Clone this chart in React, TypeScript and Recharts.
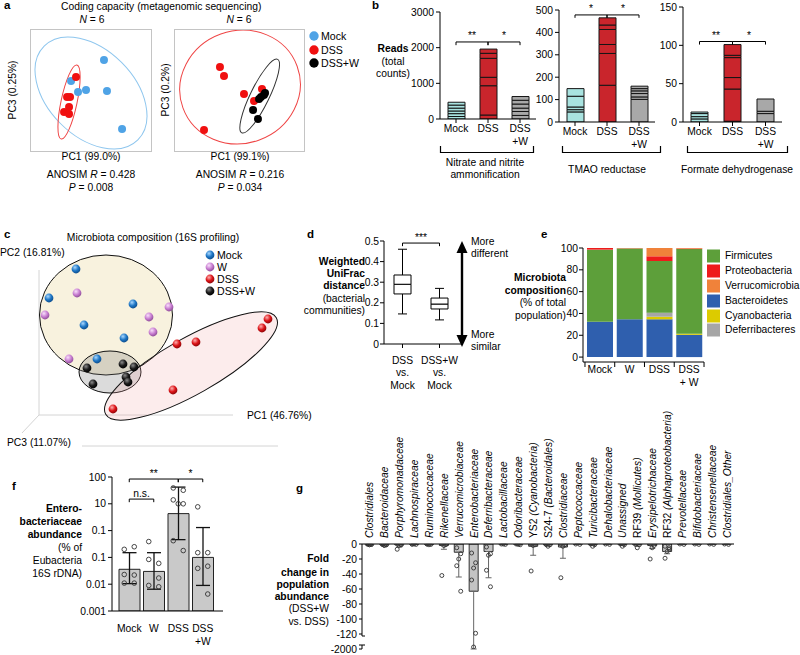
import React from 'react';
import {
  ScatterChart, Scatter, XAxis, YAxis, CartesianGrid, BarChart, Bar, Cell,
  ComposedChart, ErrorBar, ReferenceLine,
} from 'recharts';

const FONT = '"Liberation Sans", Arial, Helvetica, sans-serif';
const FS = 10.3;
const AX = { stroke: '#000', strokeWidth: 1 };
const TICK = { fontSize: FS, fill: '#000' };

/* ---------------- a : metagenomic PCoA ---------------- */
const aLeftMock = [[66.7, 82.3], [37.0, 63.5], [43.3, 53.7], [50.5, 55.4], [69.4, 54.6], [83.0, 20.6]];
const aLeftDSS = [[41.5, 67.1], [33.4, 49.2], [36.1, 49.2], [35.2, 40.2], [30.7, 35.8], [35.2, 34.0]];
const aLeftEllipses = [
  { group: 'Mock', x: 55.0, y: 52.8, rx: 59.5, ry: 38.8, angle: 45 },
  { group: 'DSS', x: 35.2, y: 44.7, rx: 7.2, ry: 34, angle: 12 },
];
const aRightDSS = [[42.1, 76.0], [45.8, 68.0], [64.1, 51.9], [73.3, 45.6], [27.5, 19.7], [80.6, 56.3]];
const aRightDSSW = [[83.4, 52.8], [79.7, 49.2], [77.9, 47.4], [72.4, 37.6], [76.9, 29.5], [82.4, 51.0]];
const aRightEllipses = [
  { group: 'DSS', x: 60.5, y: 58.1, rx: 55, ry: 51, angle: -20 },
  { group: 'DSS+W', x: 78.5, y: 50, rx: 8.5, ry: 37, angle: 26 },
];
const aColors: any = { Mock: '#4fa3e6', DSS: '#f01010', 'DSS+W': '#000' };
const aEllColors: any = { Mock: '#8ec6ee', DSS: '#ef4545', 'DSS+W': '#333' };

/* ---------------- b : functional reads ---------------- */
const bCats = ['Mock', 'DSS', 'DSS\n+W'];
const bColors = ['#a9e3e0', '#c9252c', '#a8a8a8'];
const nitrateMock = [70, 80, 75, 80, 85, 80];
const nitrateDSS = [112, 821, 236, 532, 141, 118];
const nitrateDSSW = [100, 110, 95, 115, 105, 105];
const tmaoMock = [45, 10, 12, 48, 34];
const tmaoDSS = [164, 142, 40, 67, 20, 32];
const tmaoDSSW = [101, 11, 15, 12, 10, 11];
const formateMock = [4, 3, 4, 2];
const formateDSS = [1, 42, 15, 26, 3, 14];
const formateDSSW = [11, 3, 16];
const nitrateTicks = [0, 1000, 2000, 3000];
const tmaoTicks = [0, 100, 200, 300, 400, 500];
const formateTicks = [0, 50, 100, 150];
const nitrateSig = [
  { from: 'Mock', to: 'DSS', y: 2160, yEnd: 2070, label: '**' },
  { from: 'DSS', to: 'DSS\n+W', y: 2160, yEnd: 2070, label: '*' },
];
const tmaoSig = [
  { from: 'Mock', to: 'DSS', y: 478, yEnd: 465, label: '*' },
  { from: 'DSS', to: 'DSS\n+W', y: 478, yEnd: 465, label: '*' },
];
const formateSig = [
  { from: 'Mock', to: 'DSS', y: 105, yEnd: 101, label: '**' },
  { from: 'DSS', to: 'DSS\n+W', y: 105, yEnd: 101, label: '*' },
];
const SEG_KEYS = ['s0', 's1', 's2', 's3', 's4', 's5'];

/* ---------------- c : 16S PCoA ---------------- */
const cMock = [[37, 146], [10, 117], [94, 111], [45, 90], [85, 77], [58, 56]];
const cW = [[38, 122], [6, 100], [130, 108], [110, 98], [114, 83], [30, 56]];
const cDSS = [[229, 96], [223, 87], [138, 71], [157, 73], [134, 25], [74, 6]];
const cDSSW = [[48, 47], [84, 51], [95, 48], [54, 31], [87, 38], [89, 33]];
const cEllipses = [
  { group: 'healthy', x: 67, y: 100, rx: 66.5, ry: 60, angle: 0 },
  { group: 'DSS+W', x: 71, y: 43, rx: 31, ry: 21, angle: 0 },
  { group: 'DSS', x: 152, y: 49, rx: 98, ry: 28, angle: -29.5 },
];
const cAxisSegments = [
  [[0, 0], [0, 145]],
  [[0, 0], [194, 0]],
  [[0, 0], [-17, -18]],
  [[43, -31], [239, -31]],
];

/* ---------------- d : UniFrac box plot ---------------- */
const dCats = ['DSS\nvs.\nMock', 'DSS+W\nvs.\nMock'];
const dMin = [0.146, 0.117];
const dQ1 = [0.243, 0.17];
const dMedian = [0.29, 0.194];
const dQ3 = [0.335, 0.223];
const dMax = [0.46, 0.27];
const dTicks = [0, 0.1, 0.2, 0.3, 0.4, 0.5];
const dSig = [{ from: 'DSS\nvs.\nMock', to: 'DSS+W\nvs.\nMock', y: 0.49, yEnd: 0.475, label: '***' }];

/* ---------------- e : phylum composition ---------------- */
const eCats = ['Mock', 'W', 'DSS', 'DSS\n+ W'];
const bacteroidetes = [32.5, 34.6, 34.6, 20.4];
const cyanobacteria = [0, 0, 2.4, 1.0];
const deferribacteres = [0, 0, 3.7, 0];
const firmicutes = [66.0, 65.0, 47.4, 77.6];
const proteobacteria = [1.5, 0.2, 4.3, 0.5];
const verrucomicrobia = [0, 0.2, 7.6, 0.5];
const eTicks = [0, 20, 40, 60, 80, 100];
const ePhyla = [
  { key: 'Bacteroidetes', values: bacteroidetes, color: '#2f5fae' },
  { key: 'Cyanobacteria', values: cyanobacteria, color: '#dccb00' },
  { key: 'Deferribacteres', values: deferribacteres, color: '#a6a6a6' },
  { key: 'Firmicutes', values: firmicutes, color: '#5d9f3a' },
  { key: 'Proteobacteria', values: proteobacteria, color: '#ee1b1b' },
  { key: 'Verrucomicrobia', values: verrucomicrobia, color: '#f0823a' },
];
const eLegendOrder = ['Firmicutes', 'Proteobacteria', 'Verrucomicrobia', 'Bacteroidetes', 'Cyanobacteria', 'Deferribacteres'];

/* ---------------- f : Enterobacteriaceae ---------------- */
const fCats = ['Mock', 'W', 'DSS', 'DSS\n+W'];
const fMeans = [0.036, 0.03, 4.3, 0.1];
const fLow = [0.0105, 0.0065, 0.46, 0.009];
const fHigh = [0.15, 0.15, 42, 1.3];
const fPoints = [
  [0.2, 0.25, 0.023, 0.022, 0.011, 0.011],
  [0.39, 0.06, 0.084, 0.017, 0.009, 0.008],
  [39, 32, 14, 10, 0.42, 0.18, 10],
  [7.7, 0.15, 0.15, 0.047, 0.039, 0.0043],
];
const fTicks = [0.001, 0.01, 0.1, 1, 10, 100];
const fTickLabels = ['0.001', '0.01', '0.1', '0.1', '10', '100'];
const fSig = [
  { from: 'Mock', to: 'DSS', y: 84, yEnd: 64, label: '**' },
  { from: 'DSS', to: 'DSS\n+W', y: 84, yEnd: 64, label: '*' },
  { from: 'Mock', to: 'W', y: 15, yEnd: 11.5, label: 'n.s.' },
];

/* ---------------- g : fold change per family ---------------- */
const gCats = ['Clostridiales', 'Bacteroidaceae', 'Porphyromonadaceae', 'Lachnospiraceae', 'Ruminococcaceae',
  'Rikenellaceae', 'Verrucomicrobiaceae', 'Enterobacteriaceae', 'Deferribacteraceae', 'Lactobacillaceae',
  'Odoribacteraceae', 'YS2 (Cyanobacteria)', 'S24-7 (Bacteroidales)', 'Clostridiaceae', 'Peptococcaceae',
  'Turicibacteraceae', 'Dehalobacteriaceae', 'Unassigned', 'RF39 (Mollicutes)', 'Erysipelotrichaceae',
  'RF32 (Alphaproteobacteria)', 'Prevotellaceae', 'Bifidobacteriaceae', 'Christensenellaceae', 'Clostridiales_Other'];
const gMeans = [-0.5, -1, -1, -0.3, -0.5, -2, -11, -63, -10, -0.3, -0.5, -3, -1, -4, -0.3, -0.5, -0.3, -0.5, -1, -2, -10, -0.3, -0.3, -0.3, -0.3];
const gSD = [1, 1.5, 3, 0.5, 1, 5, 33, 1937, 35, 0.5, 1, 12, 2, 15, 0.5, 1.5, 0.5, 1.5, 2, 4, 3, 0.5, 0.5, 0.5, 0.5];
const gPoints = [
  [0, -0.5, -1, 0, -0.5, -1], [0, -1, -2, -0.5, -1, -1.5], [0, -1, -2, -7, -0.5], [0, -0.5, 0, -0.3],
  [0, -0.5, -1, 0], [0, -1, -2, -42], [-5, -13, -20, -29, -63], [-12, -25, -32, -48, -119, -1750],
  [-4, -13, -15, -35, -57], [0, -0.5, 0], [0, -1, -0.5], [0, -1, -2, -36], [0, -1, -3, -0.5],
  [0, -1, -3, -45], [0, -0.5], [0, -1, -3], [0, -0.5], [0, -1, -3], [0, -1, -5], [0, -2, -5, -20],
  [-3, -5, -10, -19, -7], [0, -0.5], [0, -0.5], [0, -0.5], [0, -0.5],
];
const gTicks = [0, -20, -40, -60, -80, -100, -120, -140];
// broken axis: values below -120 are compressed, -2000 sits at the -140 slot
const brk = (v: number) => (v >= -120 ? v : -120 - ((-120 - v) / 1880) * 20);

/* ---------------- helpers ---------------- */
const toPts = (arr: number[][]) => arr.map(([x, y]) => ({ x, y }));
const At = ({ left, top, children }: any) => <div style={{ position: 'absolute', left, top }}>{children}</div>;

function T({ x, y, children, anchor = 'start', bold = false, italic = false, size = FS, rotate = 0 }: any) {
  const tx = anchor === 'middle' ? '-50%' : anchor === 'end' ? '-100%' : '0';
  return (
    <div style={{
      position: 'absolute', left: x, top: y, whiteSpace: 'nowrap', lineHeight: 1, fontSize: size,
      fontWeight: bold ? 700 : 400, fontStyle: italic ? 'italic' : 'normal',
      transform: `translate(${tx},-50%)${rotate ? ` rotate(${rotate}deg)` : ''}`, transformOrigin: '50% 50%',
    }}>{children}</div>
  );
}

const multiTick = (dy0: number, lh: number) => (p: any) => {
  const { x, y, payload } = p;
  const lines = String(payload.value).split('\n');
  return (
    <text x={x} y={y} textAnchor="middle" fontSize={FS} fill="#000">
      {lines.map((l, i) => <tspan key={i} x={x} dy={i === 0 ? dy0 : lh}>{l}</tspan>)}
    </text>
  );
};

const starLabel = (text: string) => (props: any) => {
  const vb = props.viewBox || {};
  const x = (vb.x || 0) + (vb.width || 0) / 2;
  const y = Math.min(vb.y || 0, (vb.y || 0) + (vb.height || 0)) - 2.5;
  return <text x={x} y={y} textAnchor="middle" fontSize={FS} style={{ fill: '#000', stroke: 'none' }}>{text}</text>;
};

const bracket = (s: any, key: string) => [
  <ReferenceLine key={key + 'h'} segment={[{ x: s.from, y: s.y }, { x: s.to, y: s.y }]} stroke="#000" strokeWidth={1}
    label={starLabel(s.label)} />,
  <ReferenceLine key={key + 'l'} segment={[{ x: s.from, y: s.y }, { x: s.from, y: s.yEnd }]} stroke="#000" strokeWidth={1} />,
  <ReferenceLine key={key + 'r'} segment={[{ x: s.to, y: s.y }, { x: s.to, y: s.yEnd }]} stroke="#000" strokeWidth={1} />,
];

const ellipseShape = (k: number, stroke: any, fill: any) => (p: any) => {
  const d = p.payload;
  if (!d || !isFinite(p.cx) || !isFinite(p.cy)) return null;
  return (
    <ellipse cx={p.cx} cy={p.cy} rx={d.rx * k} ry={d.ry * k}
      transform={`rotate(${d.angle} ${p.cx} ${p.cy})`}
      fill={fill[d.group] || 'none'} stroke={stroke[d.group]} strokeWidth={1} />
  );
};

/* ---------------- panel a ---------------- */
function PcoaBox({ left, top, width, height, xMax, yMax, groups, ellipses }: any) {
  const k = (width / xMax + height / yMax) / 2;
  const tx: number[] = []; for (let v = 0; v <= xMax; v += 10) tx.push(v);
  const ty: number[] = []; for (let v = 0; v <= yMax; v += 10) ty.push(v);
  return (
    <div style={{ position: 'absolute', left, top, width, height }}>
      <ScatterChart width={width} height={height} margin={{ top: 0, right: 0, bottom: 0, left: 0 }}>
        <CartesianGrid stroke="#dedede" strokeWidth={1} />
        <XAxis type="number" dataKey="x" domain={[0, xMax]} ticks={tx} interval={0} height={0} tick={false} axisLine={false} tickLine={false} allowDataOverflow />
        <YAxis type="number" dataKey="y" domain={[0, yMax]} ticks={ty} interval={0} width={0} tick={false} axisLine={false} tickLine={false} allowDataOverflow />
        <Scatter data={ellipses} isAnimationActive={false} shape={ellipseShape(k, aEllColors, {})} />
        {groups.map((g: any) => (
          <Scatter key={g.name} data={toPts(g.points)} isAnimationActive={false}
            shape={(p: any) => <circle cx={p.cx} cy={p.cy} r={4} fill={aColors[g.name]} />} />
        ))}
      </ScatterChart>
      <div style={{ position: 'absolute', left: 0, top: 0, width, height, border: '1px solid #c4c4c4', boxSizing: 'border-box', pointerEvents: 'none' }} />
    </div>
  );
}

/* ---------------- panel b ---------------- */
function ReadsChart({ left, top, width, height, marginTop, segs, ticks, yMax, sig }: any) {
  const rows = bCats.map((name, i) => {
    const r: any = { name };
    segs[i].forEach((v: number, j: number) => { r['s' + j] = v; });
    return r;
  });
  return (
    <At left={left} top={top}>
      <BarChart width={width} height={height} data={rows} margin={{ top: marginTop, right: 2, bottom: 0, left: 0 }} barSize={17}>
        <XAxis dataKey="name" height={30} interval={0} tickSize={4} tickMargin={0} tick={multiTick(8.6, 13)} axisLine={AX} tickLine={AX} />
        <YAxis width={40} domain={[0, yMax]} ticks={ticks} interval={0} tickSize={4} tickMargin={2} tick={TICK} axisLine={AX} tickLine={AX} allowDataOverflow />
        {SEG_KEYS.map((k) => (
          <Bar key={k} dataKey={k} stackId="r" stroke="#151515" strokeWidth={1} isAnimationActive={false}>
            {rows.map((r, i) => <Cell key={i} fill={bColors[i]} />)}
          </Bar>
        ))}
        {sig.flatMap((s: any, i: number) => bracket(s, 'sig' + i))}
      </BarChart>
    </At>
  );
}

/* ---------------- panel c ---------------- */
const sphereIds: any = { Mock: 'sph-mock', W: 'sph-w', DSS: 'sph-dss', 'DSS+W': 'sph-dssw' };
const cEllStroke: any = { healthy: '#111', 'DSS+W': '#111', DSS: '#111' };
const cEllFill: any = { healthy: '#f8f2de', 'DSS+W': 'rgba(110,110,110,0.25)', DSS: 'rgba(240,160,160,0.2)' };

function CChart() {
  const groups = [
    { name: 'Mock', pts: cMock }, { name: 'W', pts: cW }, { name: 'DSS', pts: cDSS }, { name: 'DSS+W', pts: cDSSW },
  ];
  return (
    <At left={0} top={245}>
      <ScatterChart width={320} height={202} margin={{ top: 0, right: 0, bottom: 0, left: 0 }}>
        <XAxis type="number" dataKey="x" domain={[-39, 281]} hide allowDataOverflow />
        <YAxis type="number" dataKey="y" domain={[-32, 170]} hide allowDataOverflow />
        {cAxisSegments.map((s, i) => (
          <ReferenceLine key={i} segment={[{ x: s[0][0], y: s[0][1] }, { x: s[1][0], y: s[1][1] }]} stroke="#d4d4d4" strokeWidth={1} ifOverflow="visible" />
        ))}
        <Scatter data={cEllipses} isAnimationActive={false} shape={ellipseShape(1, cEllStroke, cEllFill)} />
        {groups.map((g) => (
          <Scatter key={g.name} data={toPts(g.pts)} isAnimationActive={false}
            shape={(p: any) => <circle cx={p.cx} cy={p.cy} r={4.4} fill={`url(#${sphereIds[g.name]})`} />} />
        ))}
      </ScatterChart>
    </At>
  );
}

/* ---------------- panel d ---------------- */
const whisker = (capAtBottom: boolean) => (p: any) => {
  const { x, y, width, height } = p;
  if (!isFinite(x) || !isFinite(y)) return null;
  const cx = x + width / 2;
  const cy = capAtBottom ? y + height : y;
  return (
    <g>
      <line x1={cx} x2={cx} y1={y} y2={y + height} stroke="#000" strokeWidth={1} />
      <line x1={cx - 4.5} x2={cx + 4.5} y1={cy} y2={cy} stroke="#000" strokeWidth={1} />
    </g>
  );
};

function DChart() {
  const rows = dCats.map((name, i) => ({
    name, base: dMin[i], wl: dQ1[i] - dMin[i], bl: dMedian[i] - dQ1[i], bh: dQ3[i] - dMedian[i], wh: dMax[i] - dQ3[i],
  }));
  return (
    <At left={354} top={233}>
      <BarChart width={112} height={161} data={rows} margin={{ top: 8, right: 3, bottom: 0, left: 0 }} barSize={17}>
        <XAxis dataKey="name" height={50} interval={0} tickSize={4} tickMargin={0} padding={{ left: 0, right: 5 }} tick={multiTick(15.6, 12.5)} axisLine={AX} tickLine={AX} />
        <YAxis width={30} domain={[0, 0.5]} ticks={dTicks} interval={0} tickSize={4} tickMargin={1} tick={TICK} axisLine={AX} tickLine={AX} allowDataOverflow />
        <Bar dataKey="base" stackId="box" fill="none" isAnimationActive={false} />
        <Bar dataKey="wl" stackId="box" isAnimationActive={false} shape={whisker(true)} />
        <Bar dataKey="bl" stackId="box" fill="#fff" stroke="#000" strokeWidth={1} isAnimationActive={false} />
        <Bar dataKey="bh" stackId="box" fill="#fff" stroke="#000" strokeWidth={1} isAnimationActive={false} />
        <Bar dataKey="wh" stackId="box" isAnimationActive={false} shape={whisker(false)} />
        {dSig.flatMap((s, i) => bracket(s, 'd' + i))}
      </BarChart>
    </At>
  );
}

/* ---------------- panel e ---------------- */
const eTick = (p: any) => {
  const { x, y, payload, index } = p;
  const hb = 14.9;
  const lines = String(payload.value).split('\n');
  return (
    <g>
      <line x1={x - hb} x2={x - hb} y1={y} y2={y + 5} stroke="#000" />
      {index === eCats.length - 1 && <line x1={x + hb} x2={x + hb} y1={y} y2={y + 5} stroke="#000" />}
      <text x={x} y={y} textAnchor="middle" fontSize={FS} fill="#000">
        {lines.map((l, i) => <tspan key={i} x={x} dy={i === 0 ? 10.6 : 13.5}>{l}</tspan>)}
      </text>
    </g>
  );
};

function EChart() {
  const rows = eCats.map((name, i) => {
    const r: any = { name };
    ePhyla.forEach((ph) => { r[ph.key] = ph.values[i]; });
    return r;
  });
  return (
    <At left={553} top={240}>
      <BarChart width={153} height={157} data={rows} margin={{ top: 8, right: 2, bottom: 0, left: 0 }} barSize={26}>
        <XAxis dataKey="name" height={35} interval={0} tickSize={0} tickMargin={0} padding={{ left: 2, right: 0 }} tick={eTick} axisLine={AX} tickLine={false} />
        <YAxis width={30} domain={[-4.5, 100]} ticks={eTicks} interval={0} tickSize={4} tickMargin={1} tick={TICK} axisLine={AX} tickLine={AX} allowDataOverflow />
        {ePhyla.map((ph) => (
          <Bar key={ph.key} dataKey={ph.key} stackId="e" fill={ph.color} isAnimationActive={false} />
        ))}
      </BarChart>
    </At>
  );
}

/* ---------------- panel f ---------------- */
const fOffsets = [-5, 5, -5, 5, -5, 5, 0];
const openCircle = (off: number, r: number, stroke: string) => (p: any) => {
  if (!isFinite(p.cx) || !isFinite(p.cy)) return null;
  return <circle cx={p.cx + off} cy={p.cy} r={r} fill="none" stroke={stroke} strokeWidth={0.9} />;
};

function FChart() {
  const rows = fCats.map((name, i) => {
    const r: any = { name, mean: fMeans[i], err: [fMeans[i] - fLow[i], fHigh[i] - fMeans[i]] };
    fPoints[i].forEach((v, j) => { r['p' + j] = v; });
    return r;
  });
  return (
    <At left={72} top={469}>
      <ComposedChart width={153} height={177} data={rows} margin={{ top: 8, right: 2, bottom: 0, left: 0 }} barSize={21}>
        <XAxis dataKey="name" height={35} interval={0} tickSize={0} tickMargin={0} padding={{ left: 5, right: 8 }} tick={multiTick(20.6, 13)} axisLine={AX} tickLine={false} />
        <YAxis width={40} scale="log" domain={[0.001, 100]} ticks={fTicks} interval={0} allowDataOverflow
          tickFormatter={(v: number) => fTickLabels[fTicks.indexOf(v)]} tickSize={4} tickMargin={2} tick={TICK} axisLine={AX} tickLine={AX} />
        <Bar dataKey="mean" fill="#c9c9c9" stroke="#222" strokeWidth={1} isAnimationActive={false}>
          <ErrorBar dataKey="err" width={7} stroke="#111" strokeWidth={1.3} direction="y" />
        </Bar>
        {fOffsets.map((off, j) => (
          <Scatter key={j} dataKey={'p' + j} fill="#333" isAnimationActive={false} shape={openCircle(off, 2.3, '#333')} />
        ))}
        {fSig.flatMap((s, i) => bracket(s, 'f' + i))}
      </ComposedChart>
    </At>
  );
}

/* ---------------- panel g ---------------- */
const gTick = (p: any) => {
  const { x, y, payload } = p;
  const label = String(payload.value);
  const m = label.match(/^(\S*\d\S*) (\(.+\))$/);
  return (
    <text x={x} y={y} transform={`rotate(-90 ${x} ${y})`} fontSize={FS} fill="#000" dominantBaseline="central">
      {m ? [<tspan key="a">{m[1] + ' '}</tspan>, <tspan key="b" fontStyle="italic">{m[2]}</tspan>]
        : <tspan fontStyle="italic">{label}</tspan>}
    </text>
  );
};

const gYTick = (p: any) => {
  const { x, y, payload } = p;
  const ax = x + 5;
  const v = payload.value;
  return (
    <g>
      <text x={x} y={y} textAnchor="end" dominantBaseline="central" fontSize={FS} fill="#000">{v === -140 ? '-2000' : String(v)}</text>
      {v === -120 && <rect x={ax - 2} y={y + 2} width={4} height={9} fill="#fff" />}
      {v === -120 && <line x1={ax} x2={ax + 3} y1={y + 2} y2={y + 2} stroke="#000" />}
      {v === -140 && <line x1={ax - 3} x2={ax + 3} y1={y - 4} y2={y - 4} stroke="#000" />}
    </g>
  );
};

const gOffsets = [-2, 2, 0, -2, 2, 0];

function GChart() {
  const rows = gCats.map((name, i) => {
    const mean = brk(gMeans[i]);
    const lower = brk(gMeans[i] - gSD[i]);
    const r: any = { name, mean, err: [mean - lower, 0] };
    gPoints[i].forEach((v, j) => { r['p' + j] = brk(v); });
    return r;
  });
  return (
    <At left={322} top={404}>
      <ComposedChart width={416} height={251} data={rows} margin={{ top: 0, right: 4, bottom: 6, left: 0 }} barSize={9}>
        <XAxis dataKey="name" orientation="top" height={140} interval={0} tickSize={0} tickMargin={6} tick={gTick} axisLine={AX} tickLine={false} />
        <YAxis width={40} domain={[-140, 0]} ticks={gTicks} interval={0} allowDataOverflow tickSize={3} tickMargin={2} tick={gYTick} axisLine={AX} tickLine={AX} />
        <Bar dataKey="mean" fill="#c4c4c4" stroke="#333" strokeWidth={1} isAnimationActive={false}>
          <ErrorBar dataKey="err" width={3} stroke="#666" strokeWidth={1} direction="y" />
        </Bar>
        {gOffsets.map((off, j) => (
          <Scatter key={j} dataKey={'p' + j} fill="#333" isAnimationActive={false} shape={openCircle(off, 2, '#333')} />
        ))}
      </ComposedChart>
    </At>
  );
}

/* ---------------- App ---------------- */
export default function App() {
  const legendA = [{ name: 'Mock', y: 36 }, { name: 'DSS', y: 50 }, { name: 'DSS+W', y: 63 }];
  const legendC = [{ name: 'Mock', y: 255 }, { name: 'W', y: 267 }, { name: 'DSS', y: 279 }, { name: 'DSS+W', y: 291 }];
  const legendEY = [256, 271, 286, 301, 316, 330];
  return (
    <div style={{ position: 'absolute', left: 0, top: 0, width: 800, height: 655, background: '#fff', fontFamily: FONT, fontSize: FS, color: '#000', overflow: 'hidden' }}>
      <svg width={0} height={0} style={{ position: 'absolute' }}>
        <defs>
          {[
            ['sph-mock', '#a9d8ff', '#1f77c6', '#0d4d8c'],
            ['sph-w', '#f8e0fa', '#c97fd2', '#8e4c97'],
            ['sph-dss', '#ffb0b0', '#dc1418', '#8d0508'],
            ['sph-dssw', '#8a8a8a', '#1a1a1a', '#000'],
          ].map(([id, a, b, c]) => (
            <radialGradient key={id} id={id} cx="38%" cy="32%" r="70%">
              <stop offset="0%" stopColor={a} />
              <stop offset="55%" stopColor={b} />
              <stop offset="100%" stopColor={c} />
            </radialGradient>
          ))}
        </defs>
      </svg>

      {/* ---- a ---- */}
      <T x={4} y={6} bold size={11.5}>a</T>
      <T x={61} y={7}>Coding capacity (metagenomic sequencing)</T>
      <T x={92} y={20} anchor="middle"><i>N</i> = 6</T>
      <T x={239} y={20} anchor="middle"><i>N</i> = 6</T>
      <T x={13} y={90} anchor="middle" rotate={-90}>PC3 (0.25%)</T>
      <T x={166} y={90} anchor="middle" rotate={-90}>PC3 (0.2%)</T>
      <PcoaBox left={30} top={29} width={122} height={123} xMax={110} yMax={110}
        ellipses={aLeftEllipses} groups={[{ name: 'Mock', points: aLeftMock }, { name: 'DSS', points: aLeftDSS }]} />
      <PcoaBox left={174} top={29} width={131} height={123} xMax={120} yMax={110}
        ellipses={aRightEllipses} groups={[{ name: 'DSS', points: aRightDSS }, { name: 'DSS+W', points: aRightDSSW }]} />
      <T x={91} y={157} anchor="middle">PC1 (99.0%)</T>
      <T x={240} y={157} anchor="middle">PC1 (99.1%)</T>
      <T x={91} y={175} anchor="middle">ANOSIM <i>R</i> = 0.428</T>
      <T x={91} y={188} anchor="middle"><i>P</i> = 0.008</T>
      <T x={240} y={175} anchor="middle">ANOSIM <i>R</i> = 0.216</T>
      <T x={240} y={188} anchor="middle"><i>P</i> = 0.034</T>
      {legendA.map((l) => <T key={l.name} x={321} y={l.y} size={10.6}>{l.name}</T>)}

      {/* ---- b ---- */}
      <T x={372} y={6} bold size={11.5}>b</T>
      <T x={393} y={49} anchor="middle" bold>Reads</T>
      <T x={393} y={62} anchor="middle">(total</T>
      <T x={393} y={74} anchor="middle">counts)</T>
      <ReadsChart left={400} top={2} width={138} height={147} marginTop={10} yMax={3000} ticks={nitrateTicks}
        segs={[nitrateMock, nitrateDSS, nitrateDSSW]} sig={nitrateSig} />
      <ReadsChart left={519} top={0} width={138} height={152} marginTop={10} yMax={500} ticks={tmaoTicks}
        segs={[tmaoMock, tmaoDSS, tmaoDSSW]} sig={tmaoSig} />
      <ReadsChart left={643} top={0} width={141} height={152} marginTop={7} yMax={150} ticks={formateTicks}
        segs={[formateMock, formateDSS, formateDSSW]} sig={formateSig} />
      <T x={485} y={163} anchor="middle">Nitrate and nitrite</T>
      <T x={485} y={175} anchor="middle">ammonification</T>
      <T x={607} y={170} anchor="middle">TMAO reductase</T>
      <T x={737} y={170} anchor="middle">Formate dehydrogenase</T>

      {/* ---- c ---- */}
      <T x={4} y={235} bold size={11.5}>c</T>
      <T x={153} y={238} anchor="middle">Microbiota composition (16S profiling)</T>
      <T x={0} y={253}>PC2 (16.81%)</T>
      <CChart />
      <T x={247} y={416}>PC1 (46.76%)</T>
      <T x={7} y={443}>PC3 (11.07%)</T>
      {legendC.map((l) => <T key={l.name} x={217} y={l.y} size={10.6}>{l.name}</T>)}

      {/* ---- d ---- */}
      <T x={307} y={235} bold size={11.5}>d</T>
      <T x={365} y={262} anchor="end" bold>Weighted</T>
      <T x={365} y={274} anchor="end" bold>UniFrac</T>
      <T x={365} y={286} anchor="end" bold>distance</T>
      <T x={365} y={299} anchor="end">(bacterial</T>
      <T x={365} y={311} anchor="end">communities)</T>
      <DChart />
      <T x={471} y={242}>More</T>
      <T x={471} y={254}>different</T>
      <T x={471} y={335}>More</T>
      <T x={471} y={347}>similar</T>

      {/* ---- e ---- */}
      <T x={541} y={235} bold size={11.5}>e</T>
      <T x={566} y={278} anchor="end" bold>Microbiota</T>
      <T x={566} y={291} anchor="end" bold>composition</T>
      <T x={566} y={303} anchor="end">(% of total</T>
      <T x={566} y={316} anchor="end">population)</T>
      <EChart />
      {eLegendOrder.map((name, i) => <T key={name} x={725} y={legendEY[i]}>{name}</T>)}

      {/* ---- f ---- */}
      <T x={12} y={487} bold size={11.5}>f</T>
      <T x={82} y={509} anchor="end" bold>Entero-</T>
      <T x={82} y={522} anchor="end" bold>bacteriaceae</T>
      <T x={82} y={535} anchor="end" bold>abundance</T>
      <T x={82} y={548} anchor="end">(% of</T>
      <T x={82} y={561} anchor="end">Eubacteria</T>
      <T x={82} y={574} anchor="end">16S rDNA)</T>
      <FChart />

      {/* ---- g ---- */}
      <T x={296} y={489} bold size={11.5}>g</T>
      <T x={329} y={559} anchor="end" bold>Fold</T>
      <T x={329} y={573} anchor="end" bold>change in</T>
      <T x={329} y={585} anchor="end" bold>population</T>
      <T x={329} y={597} anchor="end" bold>abundance</T>
      <T x={329} y={609} anchor="end">(DSS+W</T>
      <T x={329} y={622} anchor="end">vs. DSS)</T>
      <GChart />

      {/* annotation overlay: legends, brackets, arrow */}
      <svg width={800} height={655} style={{ position: 'absolute', left: 0, top: 0, pointerEvents: 'none' }}>
        {legendA.map((l) => <circle key={l.name} cx={314} cy={l.y} r={4.7} fill={aColors[l.name]} />)}
        {legendC.map((l) => <circle key={l.name} cx={210} cy={l.y} r={4.4} fill={`url(#${sphereIds[l.name]})`} />)}
        {eLegendOrder.map((name, i) => (
          <rect key={name} x={707} y={legendEY[i] - 6.5} width={13} height={13} fill={ePhyla.find((p) => p.key === name)!.color} />
        ))}
        <path d="M440.5,146 V152.5 H533.5 V146" fill="none" stroke="#000" strokeWidth={1.2} />
        <path d="M562.5,146 V152.5 H660.5 V146" fill="none" stroke="#000" strokeWidth={1.2} />
        <path d="M687.5,146 V152.5 H787.5 V146" fill="none" stroke="#000" strokeWidth={1.2} />
        <line x1={462} x2={462} y1={250} y2={338} stroke="#000" strokeWidth={2.4} />
        <polygon points="462,241 456.5,253 467.5,253" fill="#000" />
        <polygon points="462,347 456.5,335 467.5,335" fill="#000" />
      </svg>
    </div>
  );
}
